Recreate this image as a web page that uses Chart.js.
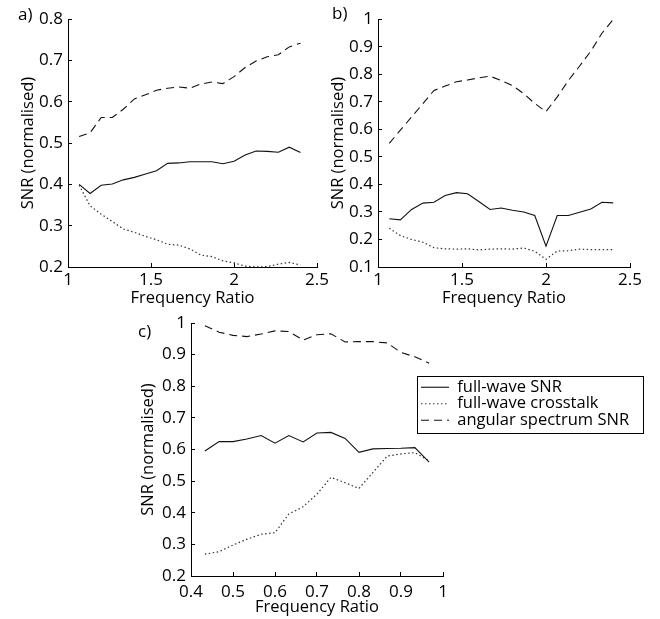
<!DOCTYPE html>
<html>
<head>
<meta charset="utf-8">
<script src="https://cdn.jsdelivr.net/npm/chart.js@4.4.0/dist/chart.umd.min.js"></script>
<style>
  html, body { margin: 0; padding: 0; background: #fff; }
  #wrap { position: relative; width: 660px; height: 619px; }
  canvas { position: absolute; }
</style>
</head>
<body>
<div id="wrap">
  <canvas id="chartA" width="336" height="310" style="left:0px;top:0px;"></canvas>
  <canvas id="chartB" width="340" height="310" style="left:320px;top:0px;"></canvas>
  <canvas id="chartC" width="530" height="319" style="left:130px;top:300px;"></canvas>
</div>
<script>
const seriesNames = ["full-wave SNR", "full-wave crosstalk", "angular spectrum SNR"];

// panels a) and b): frequency ratio above 1
const ratioAB = [1.067, 1.133, 1.2, 1.267, 1.333, 1.4, 1.467, 1.533, 1.6, 1.667, 1.733,
  1.8, 1.867, 1.933, 2.0, 2.067, 2.133, 2.2, 2.267, 2.333, 2.4];

const aSnr = [0.4, 0.378, 0.398, 0.401, 0.411, 0.417, 0.425, 0.433, 0.451, 0.452, 0.455,
  0.455, 0.455, 0.45, 0.456, 0.471, 0.481, 0.48, 0.478, 0.49, 0.477];
const aCrosstalk = [0.398, 0.348, 0.328, 0.31, 0.292, 0.284, 0.274, 0.266, 0.255, 0.253, 0.244,
  0.229, 0.225, 0.215, 0.21, 0.202, 0.2, 0.201, 0.207, 0.211, 0.205];
const aAngular = [0.516, 0.525, 0.562, 0.562, 0.582, 0.607, 0.617, 0.628, 0.633, 0.636, 0.633,
  0.643, 0.648, 0.644, 0.661, 0.683, 0.699, 0.709, 0.714, 0.733, 0.742];

const bSnr = [0.275, 0.271, 0.309, 0.332, 0.335, 0.36, 0.37, 0.366, 0.338, 0.309, 0.314,
  0.306, 0.3, 0.287, 0.176, 0.287, 0.287, 0.299, 0.311, 0.335, 0.333];
const bCrosstalk = [0.241, 0.214, 0.2, 0.19, 0.17, 0.166, 0.165, 0.166, 0.162, 0.165, 0.166,
  0.165, 0.169, 0.157, 0.128, 0.158, 0.159, 0.165, 0.163, 0.163, 0.163];
const bAngular = [0.549, 0.597, 0.645, 0.693, 0.741, 0.757, 0.773, 0.779, 0.787, 0.793, 0.777,
  0.759, 0.73, 0.694, 0.664, 0.718, 0.777, 0.83, 0.884, 0.949, 0.999];

// panel c): frequency ratio below 1
const ratioC = [0.433, 0.467, 0.5, 0.533, 0.567, 0.6, 0.633, 0.667, 0.7, 0.733, 0.767,
  0.8, 0.833, 0.867, 0.9, 0.933, 0.967];

const cSnr = [0.595, 0.625, 0.625, 0.633, 0.644, 0.62, 0.644, 0.624, 0.652, 0.654, 0.635,
  0.591, 0.602, 0.603, 0.604, 0.606, 0.56];
const cCrosstalk = [0.269, 0.277, 0.298, 0.316, 0.332, 0.337, 0.396, 0.419, 0.459, 0.512, 0.495,
  0.477, 0.527, 0.579, 0.586, 0.59, 0.564];
const cAngular = [0.991, 0.971, 0.961, 0.957, 0.965, 0.975, 0.973, 0.946, 0.963, 0.966, 0.94,
  0.941, 0.941, 0.937, 0.907, 0.893, 0.873];

const xTitle = "Frequency Ratio";
const yTitle = "SNR (normalised)";

Chart.defaults.font.family = "'Open Sans', sans-serif";
Chart.defaults.color = "#000";

function pairs(xs, ys) {
  return xs.map((x, i) => ({ x: x, y: ys[i] }));
}

function tickText(v) {
  return String(Math.round(v * 100) / 100);
}

// legend samples take the dash pattern of their dataset
function lineLabels(chart) {
  return chart.data.datasets.map((ds, i) => ({
    text: ds.label,
    datasetIndex: i,
    strokeStyle: ds.borderColor,
    fillStyle: ds.borderColor,
    fontColor: "#000",
    lineWidth: ds.borderWidth,
    lineDash: ds.borderDash || [],
    pointStyle: "line",
    hidden: false,
  }));
}

// panel letter, drawn at the top left of each canvas
const panelLabel = {
  id: "panelLabel",
  afterDraw(chart, args, opts) {
    if (!opts.text) return;
    const ctx = chart.ctx;
    ctx.save();
    ctx.font = "17px 'Open Sans', sans-serif";
    ctx.fillStyle = "#000";
    ctx.textBaseline = "middle";
    ctx.fillText(opts.text, opts.x, opts.y);
    ctx.restore();
  },
};

// legend sits over the right edge of the plot, with a frame round it
const legendFrame = {
  id: "legendFrame",
  afterLayout(chart, args, opts) {
    if (!opts.enabled) return;
    const lg = chart.legend;
    const w = lg.width;
    lg.left = opts.left;
    lg.top = opts.top;
    lg.right = lg.left + w + 20;
    lg.height = opts.height;
    lg.bottom = lg.top + opts.height;
  },
  afterDraw(chart, args, opts) {
    if (!opts.enabled) return;
    const ctx = chart.ctx;
    ctx.save();
    ctx.strokeStyle = "#000";
    ctx.lineWidth = 1;
    ctx.strokeRect(opts.frame[0] + 0.5, opts.frame[1] + 0.5, opts.frame[2], opts.frame[3]);
    ctx.restore();
  },
};

function makePanel(id, p) {
  const ctx = document.getElementById(id).getContext("2d");
  return new Chart(ctx, {
    type: "line",
    data: {
      datasets: [
        {
          label: seriesNames[0],
          data: pairs(p.xs, p.snr),
          borderColor: "#111",
          borderWidth: 1.1,
          pointRadius: 0,
          tension: 0,
        },
        {
          label: seriesNames[1],
          data: pairs(p.xs, p.crosstalk),
          borderColor: "#333",
          borderWidth: 1.2,
          borderDash: [1.5, 2.5],
          pointRadius: 0,
          tension: 0,
        },
        {
          label: seriesNames[2],
          data: pairs(p.xs, p.angular),
          borderColor: "#111",
          borderWidth: 1.1,
          borderDash: [8, 5],
          pointRadius: 0,
          tension: 0,
        },
      ],
    },
    options: {
      responsive: false,
      animation: false,
      events: [],
      layout: { padding: { left: 0, top: p.padTop, right: p.padRight, bottom: 0 } },
      scales: {
        x: {
          type: "linear",
          min: p.xMin,
          max: p.xMax,
          afterFit: (s) => { s.height = 43; },
          border: { display: true, color: "#000", width: 1 },
          grid: { drawOnChartArea: false, drawTicks: true, tickLength: -4, color: "#000" },
          ticks: { stepSize: p.xStep, padding: p.xTickPad, font: { size: 17 }, color: "#000", maxRotation: 0, callback: tickText },
          title: { display: true, text: xTitle, font: { size: 16.5 }, color: "#000", padding: { top: 0, bottom: 2 } },
        },
        y: {
          min: p.yMin,
          max: p.yMax,
          afterFit: (s) => { s.width = p.yWidth; },
          border: { display: true, color: "#000", width: 1 },
          grid: { drawOnChartArea: false, drawTicks: true, tickLength: -4, color: "#000" },
          ticks: { stepSize: 0.1, padding: 9, font: { size: 17 }, color: "#000", callback: tickText },
          title: { display: true, text: yTitle, font: { size: 16.5 }, color: "#000", padding: { top: p.yTitlePad, bottom: 0 } },
        },
      },
      plugins: {
        tooltip: { enabled: false },
        legend: {
          display: !!p.legend,
          position: "chartArea",
          align: "start",
          labels: {
            usePointStyle: true,
            pointStyle: "line",
            pointStyleWidth: 28,
            padding: 0,
            color: "#000",
            font: { size: 16.5 },
            generateLabels: lineLabels,
          },
        },
        panelLabel: p.label,
        legendFrame: p.legend || { enabled: false },
      },
    },
    plugins: [panelLabel, legendFrame],
  });
}

makePanel("chartA", {
  xs: ratioAB, snr: aSnr, crosstalk: aCrosstalk, angular: aAngular,
  xMin: 1, xMax: 2.5, xStep: 0.5, yMin: 0.2, yMax: 0.8,
  padTop: 15, padRight: 15, yWidth: 68, yTitlePad: 18, xTickPad: 7,
  label: { text: "a)", x: 18, y: 15 },
});

makePanel("chartB", {
  xs: ratioAB, snr: bSnr, crosstalk: bCrosstalk, angular: bAngular,
  xMin: 1, xMax: 2.5, xStep: 0.5, yMin: 0.1, yMax: 1,
  padTop: 14, padRight: 30, yWidth: 58, yTitlePad: 8, xTickPad: 7,
  label: { text: "b)", x: 12, y: 14 },
});

makePanel("chartC", {
  xs: ratioC, snr: cSnr, crosstalk: cCrosstalk, angular: cAngular,
  xMin: 0.4, xMax: 1, xStep: 0.1, yMin: 0.2, yMax: 1,
  padTop: 23, padRight: 217, yWidth: 61, yTitlePad: 8, xTickPad: 10,
  label: { text: "c)", x: 8, y: 32 },
  legend: { enabled: true, left: 291, top: 79, height: 53, frame: [287, 76, 226, 57] },
});
</script>
</body>
</html>
